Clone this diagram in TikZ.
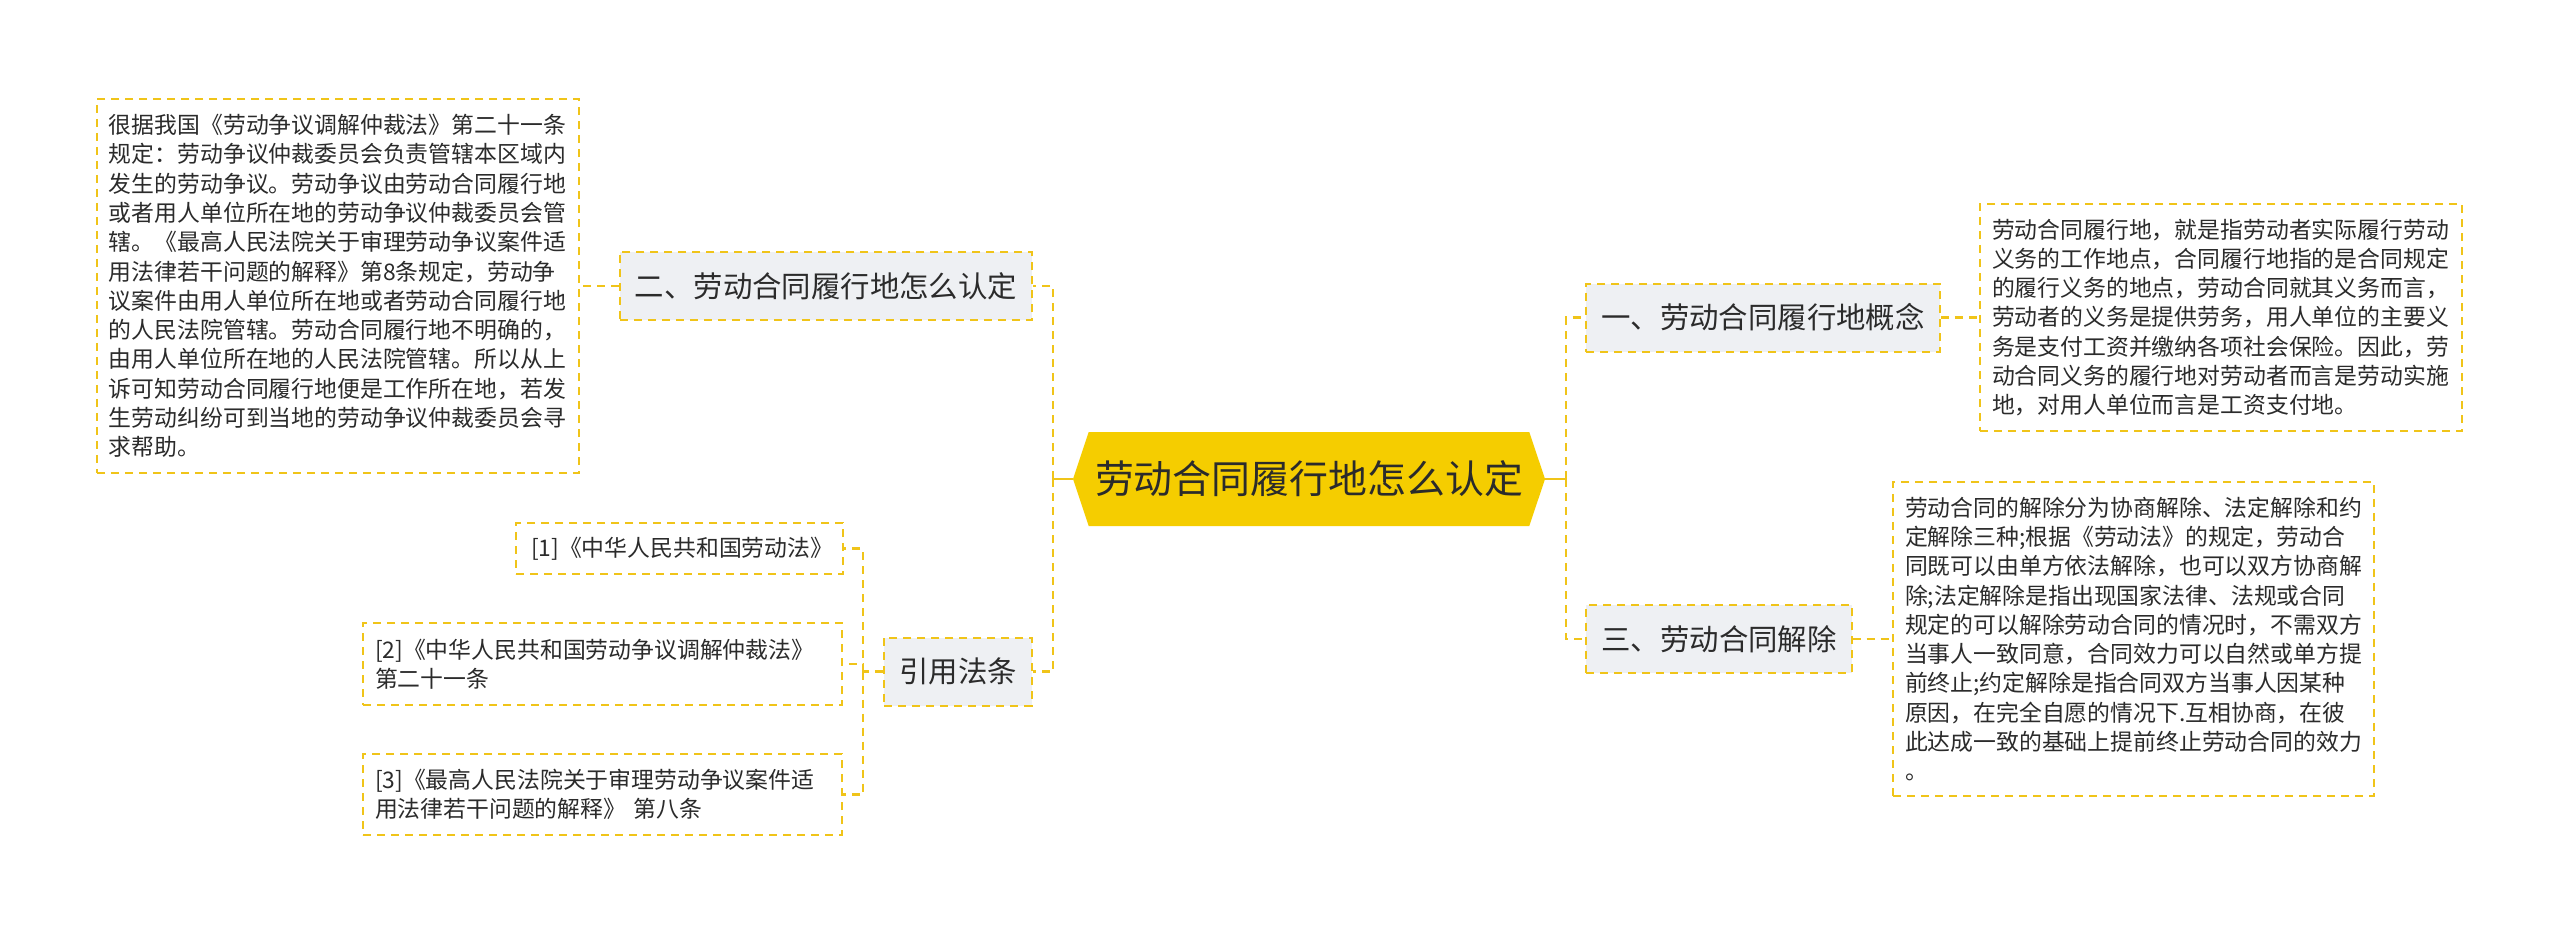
\documentclass[tikz,border=0pt]{standalone}
\usepackage{fontspec}
\setmainfont{Noto Sans CJK SC}
\usetikzlibrary{shapes.symbols}

\definecolor{lineyellow}{HTML}{F0C419}
\definecolor{rootyellow}{HTML}{F5CD00}
\definecolor{branchgray}{HTML}{EEF0F3}
\definecolor{ink}{HTML}{2B2B2B}

\tikzset{
  link/.style={draw=lineyellow, line width=0.8mm, dash pattern=on 2.4mm off 1.8mm},
  stub/.style={draw=lineyellow, line width=0.8mm},
  rootbox/.style={shape=signal, signal to=west and east, signal pointer angle=143,
    fill=rootyellow, text=ink, inner sep=0pt, minimum width=141.6mm, minimum height=28.2mm,
    font=\fontsize{33.2pt}{40pt}\selectfont},
  branchbox/.style={draw=lineyellow, line width=0.6mm, dash pattern=on 2.4mm off 1.8mm,
    fill=branchgray, text=ink, inner xsep=4.5mm, inner ysep=0pt, minimum height=20.4mm,
    font=\fontsize{25.1pt}{30pt}\selectfont},
  notebox/.style={draw=lineyellow, line width=0.6mm, dash pattern=on 2.4mm off 1.8mm,
    fill=white, text=ink, align=left, inner xsep=3.6mm, inner ysep=0pt,
    font=\fontsize{19.5pt}{25pt}\selectfont},
}

\begin{document}
\begin{tikzpicture}[x=0.3mm, y=-0.3mm]

\fill[white] (0,0) rectangle (2560,934);
\useasboundingbox (0,0) rectangle (2560,934);

\node[rootbox] (root) at (1309,479) {劳动合同履行地怎么认定};

\node[branchbox] (where) at (826,286) {二、劳动合同履行地怎么认定};
\node[branchbox] (cite) at (958,671.5) {引用法条};
\node[branchbox] (concept) at (1763,317.5) {一、劳动合同履行地概念};
\node[branchbox] (cancel) at (1719,639) {三、劳动合同解除};

\node[notebox, text width=137.4mm, minimum height=112.2mm] (whereNote) at (338,286) {很据我国《劳动争议调解仲裁法》第二十一条\\
规定：劳动争议仲裁委员会负责管辖本区域内\\
发生的劳动争议。劳动争议由劳动合同履行地\\
或者用人单位所在地的劳动争议仲裁委员会管\\
辖。《最高人民法院关于审理劳动争议案件适\\
用法律若干问题的解释》第8条规定，劳动争\\
议案件由用人单位所在地或者劳动合同履行地\\
的人民法院管辖。劳动合同履行地不明确的，\\
由用人单位所在地的人民法院管辖。所以从上\\
诉可知劳动合同履行地便是工作所在地，若发\\
生劳动纠纷可到当地的劳动争议仲裁委员会寻\\
求帮助。};

\node[notebox, text width=137.4mm, minimum height=68.1mm] (conceptNote) at (2221,317.5) {劳动合同履行地，就是指劳动者实际履行劳动\\
义务的工作地点，合同履行地指的是合同规定\\
的履行义务的地点，劳动合同就其义务而言，\\
劳动者的义务是提供劳务，用人单位的主要义\\
务是支付工资并缴纳各项社会保险。因此，劳\\
动合同义务的履行地对劳动者而言是劳动实施\\
地，对用人单位而言是工资支付地。};

\node[notebox, text width=137.1mm, minimum height=94.2mm] (cancelNote) at (2133.5,639) {劳动合同的解除分为协商解除、法定解除和约\\
定解除三种;根据《劳动法》的规定，劳动合\\
同既可以由单方依法解除，也可以双方协商解\\
除;法定解除是指出现国家法律、法规或合同\\
规定的可以解除劳动合同的情况时，不需双方\\
当事人一致同意，合同效力可以自然或单方提\\
前终止;约定解除是指合同双方当事人因某种\\
原因，在完全自愿的情况下.互相协商，在彼\\
此达成一致的基础上提前终止劳动合同的效力\\
。};

\node[notebox, text width=89.1mm, inner xsep=4.5mm, minimum height=15.3mm] (law1) at (679.5,548.5) {[1]《中华人民共和国劳动法》};
\node[notebox, text width=136.5mm, minimum height=24.6mm] (law2) at (602.5,664) {[2]《中华人民共和国劳动争议调解仲裁法》\\第二十一条};
\node[notebox, text width=136.5mm, minimum height=24.3mm] (law3) at (602.5,794.5) {[3]《最高人民法院关于审理劳动争议案件适\\用法律若干问题的解释》 第八条};

\coordinate (lbus) at (1053,479);
\coordinate (rbus) at (1566,479);
\coordinate (cbus) at (863,671.5);

\draw[stub] (root.west) -- (lbus);
\draw[stub] (root.east) -- (rbus);
\draw[link] (lbus) |- (where.east);
\draw[link] (lbus) |- (cite.east);
\draw[link] (rbus) |- (concept.west);
\draw[link] (rbus) |- (cancel.west);

\draw[link] (where.west) -- (whereNote.east);
\draw[link] (concept.east) -- (conceptNote.west);
\draw[link] (cancel.east) -- (cancelNote.west);

\draw[link] (cite.west) -- (cbus);
\draw[link] (cbus) |- (law1.east);
\draw[link] (cbus) |- (law2.east);
\draw[link] (cbus) |- (law3.east);

\end{tikzpicture}
\end{document}
